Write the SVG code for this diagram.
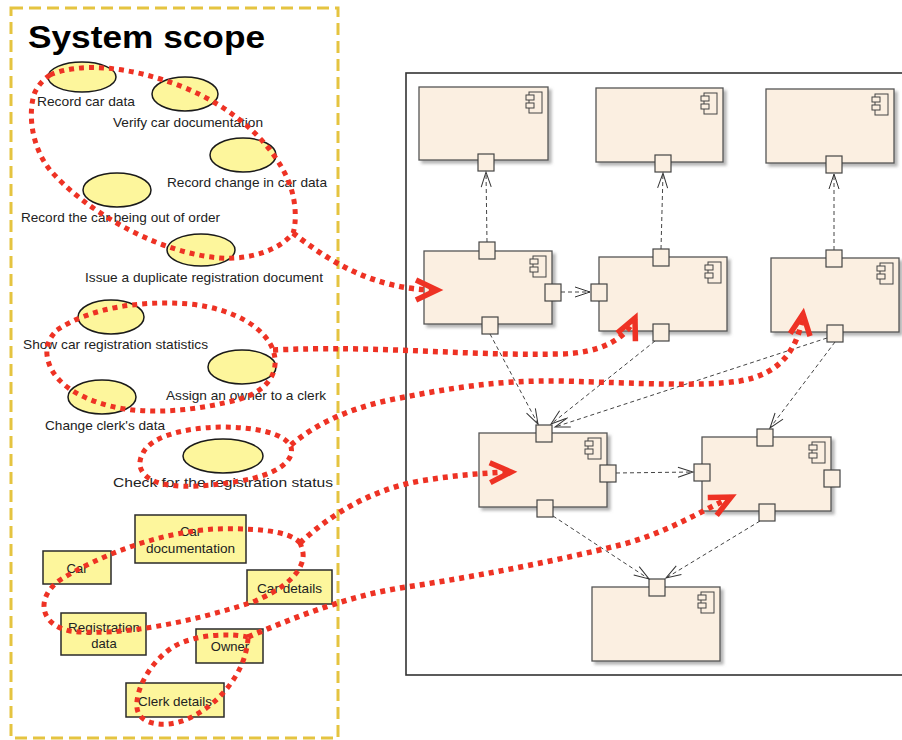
<svg xmlns="http://www.w3.org/2000/svg" width="902" height="740" viewBox="0 0 902 740">
<style>
.uc{fill:#FDF69C;stroke:#1a1a1a;stroke-width:1.5}
.bx{fill:#FDF69C;stroke:#2a2a2a;stroke-width:1.5}
.lbl{font-family:"Liberation Sans",Arial,sans-serif;font-size:13px;fill:#222}
.lblc{font-family:"Liberation Sans",Arial,sans-serif;font-size:13px;fill:#222;text-anchor:middle}
.cmp{fill:#FBEFE1;stroke:#555;stroke-width:1.3}
.port{fill:#FBEFE1;stroke:#444;stroke-width:1.2}
.ico{fill:#FBEFE1;stroke:#444;stroke-width:1}
.dep{fill:none;stroke:#444;stroke-width:1;stroke-dasharray:4 3;marker-end:url(#ga)}
.red{fill:none;stroke:#EE3224;stroke-width:5;stroke-dasharray:5 5}
.redt{fill:none;stroke:#EE3224;stroke-width:5.5;stroke-dasharray:5 5;marker-end:url(#ra)}
</style>
<defs>
<filter id="sh" x="-10%" y="-10%" width="130%" height="140%">
<feDropShadow dx="3" dy="3" stdDeviation="1.5" flood-color="#777" flood-opacity="0.55"/>
</filter>
<marker id="ga" viewBox="-17 -8 19 16" refX="0" refY="0" markerWidth="19" markerHeight="16" markerUnits="userSpaceOnUse" orient="auto">
<path d="M-15,-5 L0,0 L-15,5" fill="none" stroke="#333" stroke-width="1" stroke-dasharray="none"/>
</marker>
<marker id="ra" viewBox="-30 -16 40 32" refX="0" refY="0" markerWidth="40" markerHeight="32" markerUnits="userSpaceOnUse" orient="auto">
<path d="M-21,-10 L0,0 L-21,10" fill="none" stroke="#EE3224" stroke-width="5.5" stroke-dasharray="none"/>
</marker>
<g id="ico" class="ico">
<rect x="-19" y="5" width="13" height="21"/>
<rect x="-22" y="8" width="8" height="5"/>
<rect x="-22" y="16" width="8" height="5"/>
</g>
</defs>
<rect width="902" height="740" fill="#fff"/>

<!-- System scope frame -->
<g id="scope">
<rect x="11" y="8" width="327" height="730" fill="none" stroke="#E5C440" stroke-width="3" stroke-dasharray="12 6"/>
<text x="28" y="48" font-family="'Liberation Sans',Arial,sans-serif" font-size="32" font-weight="bold" fill="#000" textLength="237" lengthAdjust="spacingAndGlyphs">System scope</text>
</g>

<!-- Use cases -->
<g id="uc1"><ellipse class="uc" cx="82" cy="77" rx="34" ry="15"/><text class="lbl" x="37" y="106" textLength="98" lengthAdjust="spacingAndGlyphs">Record car data</text></g>
<g id="uc2"><ellipse class="uc" cx="185" cy="94" rx="33" ry="17"/><text class="lbl" x="113" y="127" textLength="150" lengthAdjust="spacingAndGlyphs">Verify car documentation</text></g>
<g id="uc3"><ellipse class="uc" cx="243" cy="155" rx="33" ry="17"/><text class="lbl" x="167" y="187" textLength="160" lengthAdjust="spacingAndGlyphs">Record change in car data</text></g>
<g id="uc4"><ellipse class="uc" cx="117" cy="190" rx="34" ry="17"/><text class="lbl" x="21" y="222" textLength="199" lengthAdjust="spacingAndGlyphs">Record the car being out of order</text></g>
<g id="uc5"><ellipse class="uc" cx="201" cy="250" rx="34" ry="16"/><text class="lbl" x="85" y="282" textLength="238" lengthAdjust="spacingAndGlyphs">Issue a duplicate registration document</text></g>
<g id="uc6"><ellipse class="uc" cx="111" cy="317" rx="33" ry="17"/><text class="lbl" x="23" y="349" textLength="185" lengthAdjust="spacingAndGlyphs">Show car registration statistics</text></g>
<g id="uc7"><ellipse class="uc" cx="242" cy="367" rx="34" ry="17"/><text class="lbl" x="166" y="400" textLength="160" lengthAdjust="spacingAndGlyphs">Assign an owner to a clerk</text></g>
<g id="uc8"><ellipse class="uc" cx="102" cy="397" rx="34" ry="17"/><text class="lbl" x="45" y="430" textLength="120" lengthAdjust="spacingAndGlyphs">Change clerk's data</text></g>
<g id="uc9"><ellipse class="uc" cx="223" cy="456" rx="40" ry="17"/><text class="lbl" x="113" y="487" font-size="15.5" textLength="220" lengthAdjust="spacingAndGlyphs">Check for the registration status</text></g>

<!-- Data entities -->
<g id="ent-cardoc"><rect class="bx" x="135" y="515" width="111" height="48"/><text class="lblc" x="190.5" y="536">Car</text><text class="lblc" x="190.5" y="553" textLength="89" lengthAdjust="spacingAndGlyphs">documentation</text></g>
<g id="ent-car"><rect class="bx" x="43" y="551" width="68" height="33"/><text class="lblc" x="77" y="573">Car</text></g>
<g id="ent-cardetails"><rect class="bx" x="247" y="570" width="85" height="34"/><text class="lblc" x="289.5" y="593" textLength="65" lengthAdjust="spacingAndGlyphs">Car details</text></g>
<g id="ent-regdata"><rect class="bx" x="61" y="613" width="85" height="42"/><text class="lblc" x="104" y="632" textLength="72" lengthAdjust="spacingAndGlyphs">Registration</text><text class="lblc" x="104" y="648">data</text></g>
<g id="ent-owner"><rect class="bx" x="196" y="629" width="67" height="34"/><text class="lblc" x="230" y="651">Owner</text></g>
<g id="ent-clerk"><rect class="bx" x="126" y="683" width="98" height="34"/><text class="lblc" x="175" y="706" textLength="74" lengthAdjust="spacingAndGlyphs">Clerk details</text></g>

<!-- Component diagram frame -->
<g id="frame"><rect x="406" y="73" width="520" height="602" fill="none" stroke="#333" stroke-width="1.6"/></g>

<!-- Components -->
<g id="c1"><rect class="cmp" x="419" y="87" width="129" height="73" filter="url(#sh)"/><use href="#ico" x="548" y="87"/><rect class="port" x="478" y="154" width="16" height="17"/></g>
<g id="c2"><rect class="cmp" x="596" y="88" width="127" height="74" filter="url(#sh)"/><use href="#ico" x="723" y="88"/><rect class="port" x="655" y="155" width="16" height="17"/></g>
<g id="c3"><rect class="cmp" x="766" y="89" width="128" height="74" filter="url(#sh)"/><use href="#ico" x="894" y="89"/><rect class="port" x="826" y="156" width="16" height="17"/></g>
<g id="c4"><rect class="cmp" x="424" y="251" width="128" height="73" filter="url(#sh)"/><use href="#ico" x="552" y="251"/><rect class="port" x="479" y="242" width="16" height="17"/><rect class="port" x="545" y="284" width="16" height="17"/><rect class="port" x="482" y="317" width="16" height="17"/></g>
<g id="c5"><rect class="cmp" x="599" y="257" width="128" height="74" filter="url(#sh)"/><use href="#ico" x="727" y="257"/><rect class="port" x="653" y="249" width="16" height="17"/><rect class="port" x="591" y="284" width="16" height="17"/><rect class="port" x="653" y="324" width="16" height="17"/></g>
<g id="c6"><rect class="cmp" x="771" y="258" width="128" height="74" filter="url(#sh)"/><use href="#ico" x="899" y="258"/><rect class="port" x="826" y="250" width="16" height="17"/><rect class="port" x="827" y="325" width="16" height="17"/></g>
<g id="c7"><rect class="cmp" x="479" y="433" width="128" height="74" filter="url(#sh)"/><use href="#ico" x="607" y="433"/><rect class="port" x="536" y="425" width="16" height="17"/><rect class="port" x="600" y="465" width="16" height="17"/><rect class="port" x="537" y="500" width="16" height="17"/></g>
<g id="c8"><rect class="cmp" x="702" y="437" width="129" height="74" filter="url(#sh)"/><use href="#ico" x="831" y="437"/><rect class="port" x="757" y="429" width="16" height="17"/><rect class="port" x="694" y="464" width="16" height="17"/><rect class="port" x="824" y="470" width="16" height="17"/><rect class="port" x="759" y="504" width="16" height="17"/></g>
<g id="c9"><rect class="cmp" x="592" y="587" width="128" height="74" filter="url(#sh)"/><use href="#ico" x="720" y="587"/><rect class="port" x="649" y="579" width="16" height="17"/></g>

<!-- Dependency connectors -->
<g id="connectors">
<path class="dep" d="M487,242 L486,172"/>
<path class="dep" d="M661,249 L663,173"/>
<path class="dep" d="M834,250 L834,174"/>
<path class="dep" d="M561,292 L590,292"/>
<path class="dep" d="M490,334 L538,424"/>
<path class="dep" d="M655,341 L551,424"/>
<path class="dep" d="M827,338 L555,427"/>
<path class="dep" d="M835,342 L770,428"/>
<path class="dep" d="M616,473 L693,472"/>
<path class="dep" d="M553,516 L649,579"/>
<path class="dep" d="M760,521 L666,578"/>
</g>

<!-- Red mapping loops and arrows -->
<g id="mapping">
<path class="red" d="M50,75 C80,62 130,66 183,87 C235,108 275,145 290,185 C297,205 296,225 293,233 C280,250 250,260 220,258 C150,252 80,205 50,170 C30,145 28,110 35,92 C39,84 44,79 50,75 Z"/>
<path class="red" d="M57,330 C90,308 140,300 190,304 C235,309 265,328 273,350 C280,370 270,390 240,399 C200,410 150,416 110,406 C75,397 50,380 47,355 C46,345 50,337 57,330 Z"/>
<path class="red" d="M143,453 C150,438 180,428 220,427 C255,427 285,433 291,447 C295,462 275,475 240,481 C200,488 160,490 145,475 C138,468 139,460 143,453 Z"/>
<path class="red" d="M300,543 C290,530 250,528 215,529 C160,532 100,555 60,580 C35,598 40,625 70,631 C120,637 190,622 250,603 C285,590 305,570 303,553 C302,548 301,545 300,543 Z"/>
<path class="red" d="M248,637 C230,633 195,634 173,647 C150,662 135,690 137,708 C139,725 165,728 185,720 C215,708 238,680 245,655 C247,648 248,642 248,637 Z"/>
<path class="redt" d="M293,233 C330,262 375,290 437,290"/>
<path class="redt" d="M273,350 C380,345 460,356 560,354 C600,353 625,340 635,318"/>
<path class="redt" d="M291,445 C320,420 360,405 400,398 C450,388 500,380 560,381 C640,383 700,387 740,381 C780,374 798,350 803,314"/>
<path class="redt" d="M300,543 C330,515 370,490 420,481 C450,476 480,473 511,472"/>
<path class="redt" d="M248,637 C300,615 350,596 400,588 C480,576 560,560 620,545 C660,535 695,515 731,497"/>
</g>
</svg>
